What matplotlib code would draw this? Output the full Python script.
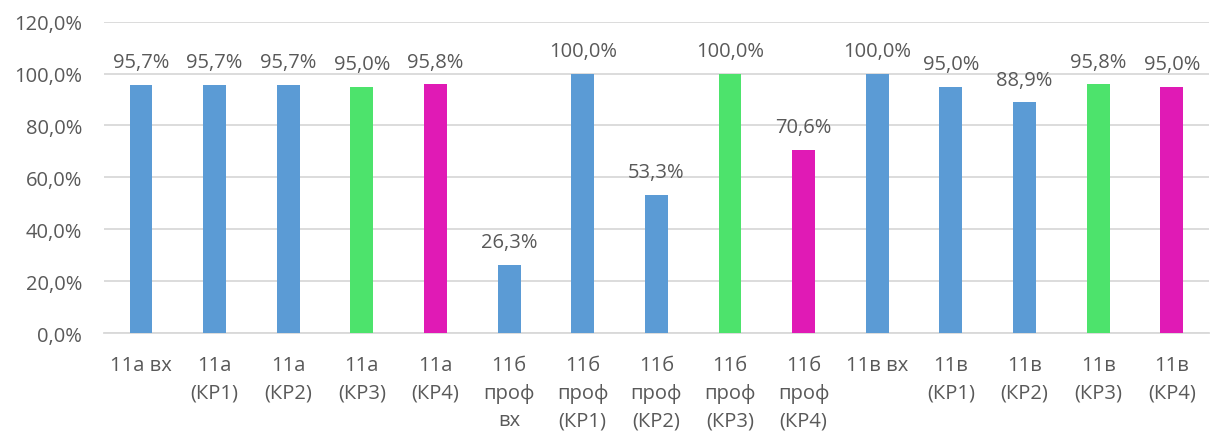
import matplotlib.pyplot as plt
import numpy as np

# Categories and values (percent)
labels = ["11а вх", "11а\n(КР1)", "11а\n(КР2)", "11а\n(КР3)", "11а\n(КР4)",
          "11б\nпроф\nвх", "11б\nпроф\n(КР1)", "11б\nпроф\n(КР2)", "11б\nпроф\n(КР3)", "11б\nпроф\n(КР4)",
          "11в вх", "11в\n(КР1)", "11в\n(КР2)", "11в\n(КР3)", "11в\n(КР4)"]
values = [95.7, 95.7, 95.7, 95.0, 95.8,
          26.3, 100.0, 53.3, 100.0, 70.6,
          100.0, 95.0, 88.9, 95.8, 95.0]
kinds = ["b", "b", "b", "g", "m",
         "b", "b", "b", "g", "m",
         "b", "b", "b", "g", "m"]

palette = {"b": "#5B9BD5", "g": "#4DE36C", "m": "#E01AB5"}
txt = "#595959"

plt.rcParams['font.family'] = ['Open Sans', 'DejaVu Sans']

fig = plt.figure(figsize=(12.11, 4.35), dpi=100)
ax = fig.add_axes([0.086, 0.232, 0.912, 0.716])

x = np.arange(len(values))
bars = ax.bar(x, values, width=0.31, color=[palette[k] for k in kinds], zorder=3)

for xi, v in zip(x, values):
    ax.text(xi, v + 4.8, f"{v:.1f}%".replace(".", ","), ha="center", va="bottom",
            fontsize=14.5, color=txt)

ax.set_xlim(-0.5, len(values) - 0.5)
ax.set_ylim(0, 120)
yt = np.arange(0, 121, 20)
ax.set_yticks(yt)
ax.set_yticklabels([f"{t:.1f}%".replace(".", ",") for t in yt], fontsize=14.5, color=txt)
ax.set_xticks(x)
ax.set_xticklabels(labels, fontsize=14.5, color=txt, linespacing=1.5, va="top")

ax.grid(axis="y", color="#D9D9D9", linewidth=1.3, zorder=0)
for s in ["top", "right", "left"]:
    ax.spines[s].set_visible(False)
ax.spines["bottom"].set_color("#D9D9D9")
ax.spines["bottom"].set_linewidth(1.3)
ax.tick_params(axis="both", length=0)
ax.tick_params(axis="x", pad=16)
ax.tick_params(axis="y", pad=16)

fig.savefig("out.png", dpi=100)
